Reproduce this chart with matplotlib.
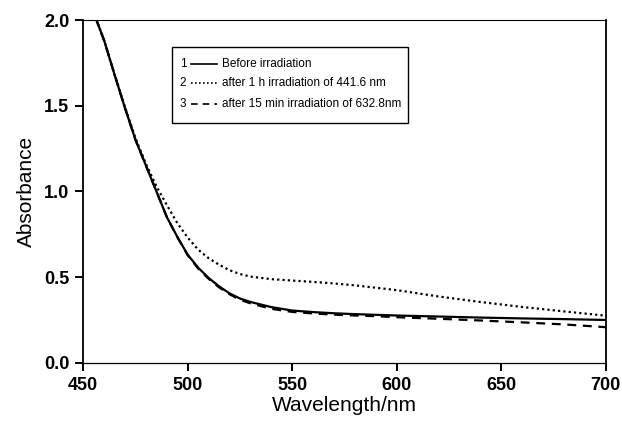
import matplotlib
matplotlib.use('Agg')
import matplotlib.pyplot as plt
from matplotlib.patches import Rectangle
from matplotlib.lines import Line2D

plt.rcParams['font.family'] = ['Liberation Sans', 'DejaVu Sans']

# wavelength grid (nm)
wavelength = [456, 460, 465, 470, 475, 480, 485, 490, 495, 500, 505, 510, 515,
              520, 525, 530, 540, 550, 560, 570, 580, 590, 600, 620, 640, 660,
              680, 700]

before = [2.01, 1.88, 1.68, 1.485, 1.30, 1.15, 1.00, 0.85, 0.735, 0.63, 0.555,
          0.495, 0.446, 0.405, 0.375, 0.355, 0.325, 0.305, 0.296, 0.289, 0.284,
          0.280, 0.276, 0.270, 0.264, 0.259, 0.255, 0.250]

after_blue = [2.01, 1.88, 1.68, 1.49, 1.31, 1.16, 1.03, 0.92, 0.815, 0.73, 0.66,
              0.61, 0.572, 0.54, 0.518, 0.503, 0.488, 0.480, 0.472, 0.463, 0.452,
              0.438, 0.424, 0.387, 0.355, 0.326, 0.300, 0.275]

after_red = [2.01, 1.88, 1.68, 1.485, 1.30, 1.15, 1.00, 0.85, 0.733, 0.627, 0.55,
             0.49, 0.44, 0.40, 0.368, 0.347, 0.315, 0.297, 0.288, 0.281, 0.276,
             0.272, 0.266, 0.257, 0.247, 0.236, 0.224, 0.208]

legend_nums = ['1', '2', '3']
legend_labels = ['Before irradiation',
                 'after 1 h irradiation of 441.6 nm',
                 'after 15 min irradiation of 632.8nm']

x_ticks = [450, 500, 550, 600, 650, 700]
y_ticks = [0.0, 0.5, 1.0, 1.5, 2.0]

fig = plt.figure(figsize=(6.22, 4.24), dpi=100)
ax = fig.add_axes([0.1339, 0.1443, 0.8399, 0.8085])

styles = [
    dict(linestyle='-', linewidth=1.6),
    dict(linestyle=(0, (1.0, 1.4)), linewidth=1.6),
    dict(linestyle=(0, (4.0, 3.0)), linewidth=1.6),
]
series = [before, after_blue, after_red]
for s, st in zip(series, styles):
    ax.plot(wavelength, s, color='black', **st)

ax.set_xlim(450, 700)
ax.set_ylim(0, 2.0)
ax.set_xticks(x_ticks)
ax.set_yticks(y_ticks)
ax.set_yticklabels([f'{v:.1f}' for v in y_ticks])
ax.tick_params(direction='out', length=6, width=1.4, labelsize=13, pad=4)
for lbl in ax.get_xticklabels() + ax.get_yticklabels():
    lbl.set_fontweight('bold')
for sp in ax.spines.values():
    sp.set_linewidth(1.3)
ax.spines['top'].set_linewidth(0.8)
ax.spines['bottom'].set_linewidth(0.9)

ax.set_xlabel('Wavelength/nm', fontsize=15, labelpad=2)
ax.set_ylabel('Absorbance', fontsize=15, labelpad=6)

# legend box drawn by hand (numbered entries)
ax.add_patch(Rectangle((0.170, 0.699), 0.451, 0.221, transform=ax.transAxes,
                       fill=False, edgecolor='black', linewidth=1.0, zorder=5))
rows_y = [0.873, 0.815, 0.756]
leg_styles = [dict(st, linewidth=1.2) for st in styles]
for num, lab, st, yy in zip(legend_nums, legend_labels, leg_styles, rows_y):
    ax.text(0.191, yy, num, transform=ax.transAxes, fontsize=8.5,
            ha='center', va='center')
    ax.add_line(Line2D([0.206, 0.256], [yy, yy], transform=ax.transAxes,
                       color='black', **st))
    ax.text(0.265, yy, lab, transform=ax.transAxes, fontsize=8.5,
            ha='left', va='center')

plt.savefig('out.png', dpi=100)
